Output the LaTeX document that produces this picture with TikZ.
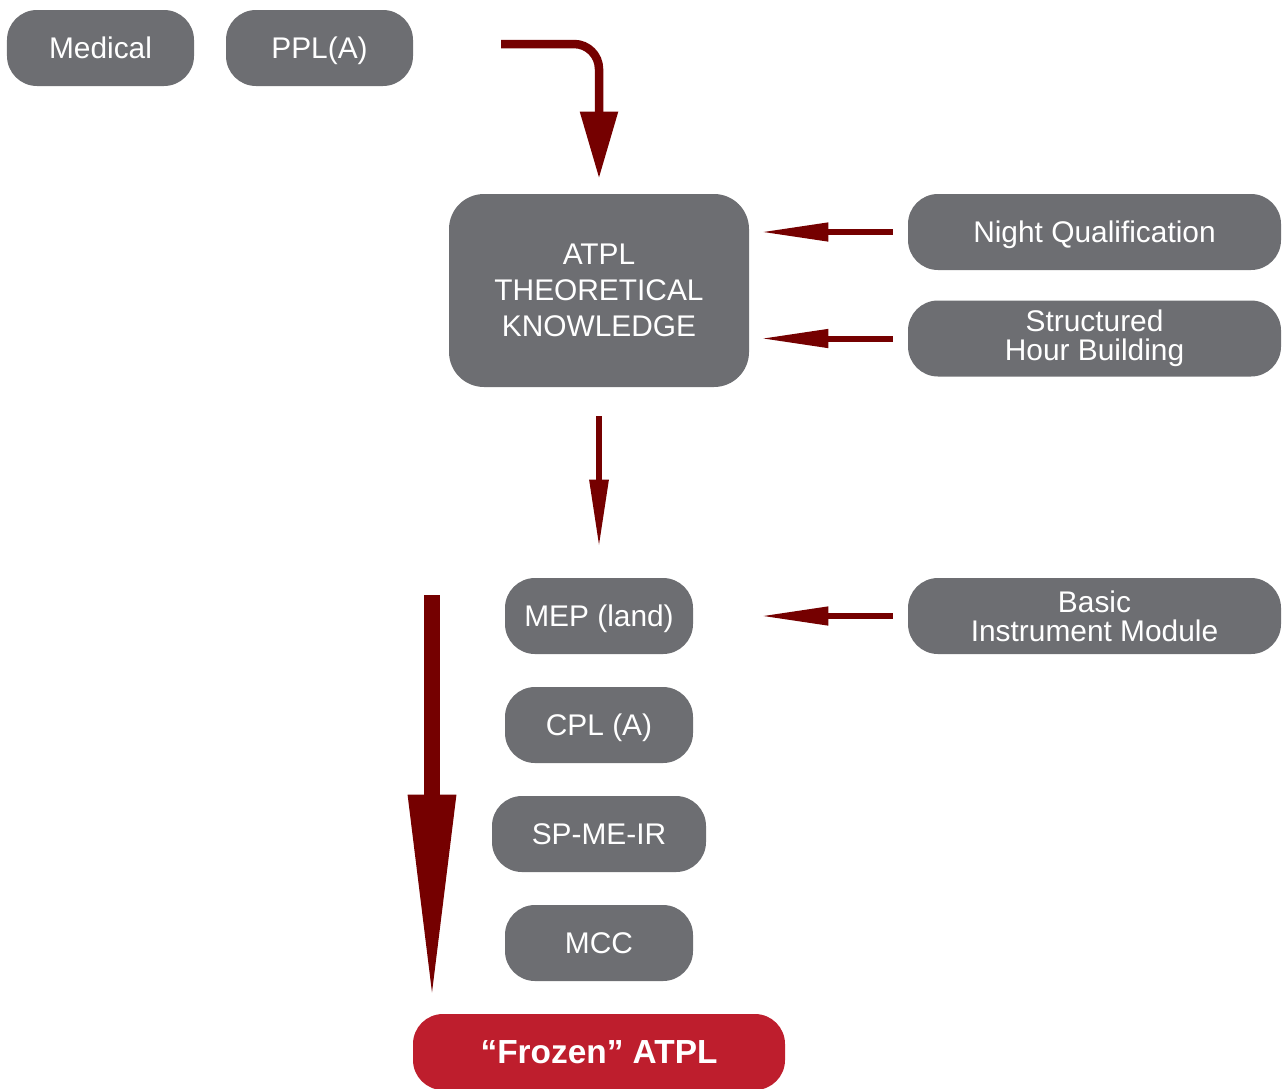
\documentclass[tikz,border=0pt]{standalone}
\usepackage{fontspec}
\setmainfont{Liberation Sans}
\definecolor{boxgray}{RGB}{109,110,114}
\definecolor{arrowred}{RGB}{117,0,0}
\definecolor{atplred}{RGB}{190,30,45}
\usetikzlibrary{arrows.meta,positioning}

\begin{document}
\begin{tikzpicture}[
        every node/.style={font=\fontsize{17}{16.5}\selectfont, text=white, align=center, inner sep=0pt},
        box/.style={fill=boxgray, rounded corners=0.6cm, minimum width=3.76cm, minimum height=1.52cm, text height=12.2pt, text depth=0pt},
        stack/.style={text height=, text depth=},
        widebox/.style={box, minimum width=7.46cm},
        link/.style={arrowred, line width=0.12cm, shorten <=0.3cm, shorten >=0.22cm, -{Triangle[length=1.36cm, width=0.35cm]}}
      ]
      \useasboundingbox (0,0) rectangle (25.64,-21.76);

      \node[box, minimum width=3.74cm] (med) at (2.01,-0.96) {Medical};
      \node[box, minimum width=3.74cm] (ppl) at (6.39,-0.96) {PPL(A)};
      \node[box, stack, rounded corners=0.7cm, minimum width=6cm, minimum height=3.86cm, font=\fontsize{17}{20.4}\selectfont] (atpl) at (11.98,-5.81) {ATPL\\THEORETICAL\\KNOWLEDGE};
      \node[widebox] (night) at (21.89,-4.64) {Night Qualification};
      \node[widebox, stack] (shb) at (21.89,-6.77) {Structured\\Hour Building};
      \node[widebox, stack] (bim) at (21.89,-12.32) {Basic\\Instrument Module};
      \node[box] (mep) at (11.98,-12.32) {MEP (land)};
      \node[box] (cpl) at (11.98,-14.50) {CPL (A)};
      \node[box, minimum width=4.28cm] (spme) at (11.98,-16.68) {SP-ME-IR};
      \node[box] (mcc) at (11.98,-18.86) {MCC};
      \node[box, fill=atplred, minimum width=7.44cm, text height=13.6pt, font=\fontsize{19}{22}\selectfont\bfseries] (frozen) at (11.98,-21.04) {“Frozen” ATPL};

      \coordinate (start) at (10.02,-0.88);
      \coordinate (flow) at (8.64,-11.90);

      \draw[arrowred, line width=0.17cm, rounded corners=0.5cm, shorten >=0.3cm, -{Triangle[length=1.34cm, width=0.72cm]}] (start) -| (atpl.north);
      \draw[link] (night.west) -- (night.west -| atpl.east);
      \draw[link] (shb.west) -- (shb.west -| atpl.east);
      \draw[link] (bim.west) -- (bim.west -| atpl.east);
      \draw[link, shorten <=0.58cm, shorten >=0.6cm, -{Triangle[length=1.36cm, width=0.36cm]}] (atpl.south) -- (mep.north);
      \draw[arrowred, line width=0.32cm, shorten >=0.2cm, -{Triangle[length=4.18cm, width=0.88cm]}] (flow) -- (flow |- frozen.north);
    \end{tikzpicture}
\end{document}
